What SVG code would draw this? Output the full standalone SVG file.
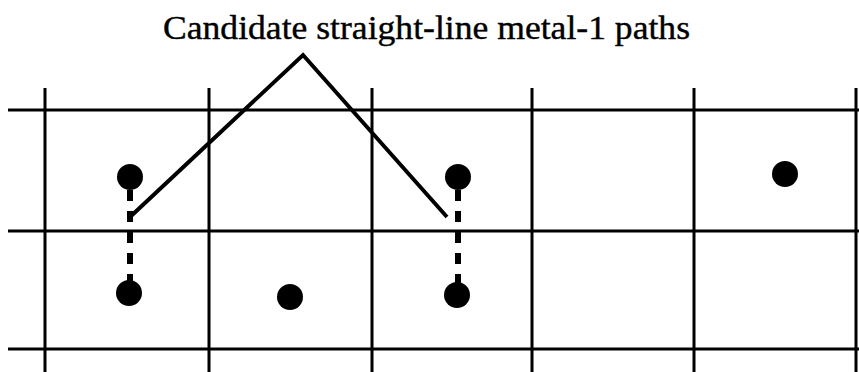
<svg xmlns="http://www.w3.org/2000/svg" width="859" height="372" viewBox="0 0 859 372">
<style>
.grid{stroke:#000;stroke-width:3;fill:none}
.lead{stroke:#000;stroke-width:4;fill:none;stroke-linejoin:miter}
.dash{stroke:#000;stroke-width:6;stroke-dasharray:11 10;fill:none}
.dot{fill:#000}
.lbl{font-family:"Liberation Serif","Times New Roman",serif;font-size:34px;fill:#000;stroke:#000;stroke-width:0.4}
</style>
<rect width="859" height="372" fill="#fff"/>
<g id="grid">
<line class="grid" x1="8" y1="110" x2="859" y2="110"/>
<line class="grid" x1="8" y1="231" x2="859" y2="231"/>
<line class="grid" x1="8" y1="349" x2="859" y2="349"/>
<line class="grid" x1="45" y1="88" x2="45" y2="372"/>
<line class="grid" x1="209" y1="88" x2="209" y2="372"/>
<line class="grid" x1="372" y1="88" x2="372" y2="372"/>
<line class="grid" x1="532" y1="88" x2="532" y2="372"/>
<line class="grid" x1="694" y1="88" x2="694" y2="372"/>
<line class="grid" x1="856" y1="88" x2="856" y2="372"/>
</g>
<g id="connectors">
<line class="dash" x1="130" y1="190" x2="130" y2="285"/>
<line class="dash" x1="458" y1="190" x2="458" y2="285"/>
<polyline class="lead" points="130,217 303,55 447,217"/>
</g>
<g id="node-a1"><circle class="dot" cx="130" cy="177" r="13"/></g>
<g id="node-a2"><circle class="dot" cx="129" cy="293" r="13"/></g>
<g id="node-b2"><circle class="dot" cx="290" cy="297" r="13"/></g>
<g id="node-c1"><circle class="dot" cx="458" cy="177" r="13"/></g>
<g id="node-c2"><circle class="dot" cx="457" cy="295" r="13"/></g>
<g id="node-e1"><circle class="dot" cx="785" cy="174" r="13"/></g>
<g id="label"><text class="lbl" x="163" y="39" textLength="527" lengthAdjust="spacingAndGlyphs">Candidate straight-line metal-1 paths</text></g>
</svg>
